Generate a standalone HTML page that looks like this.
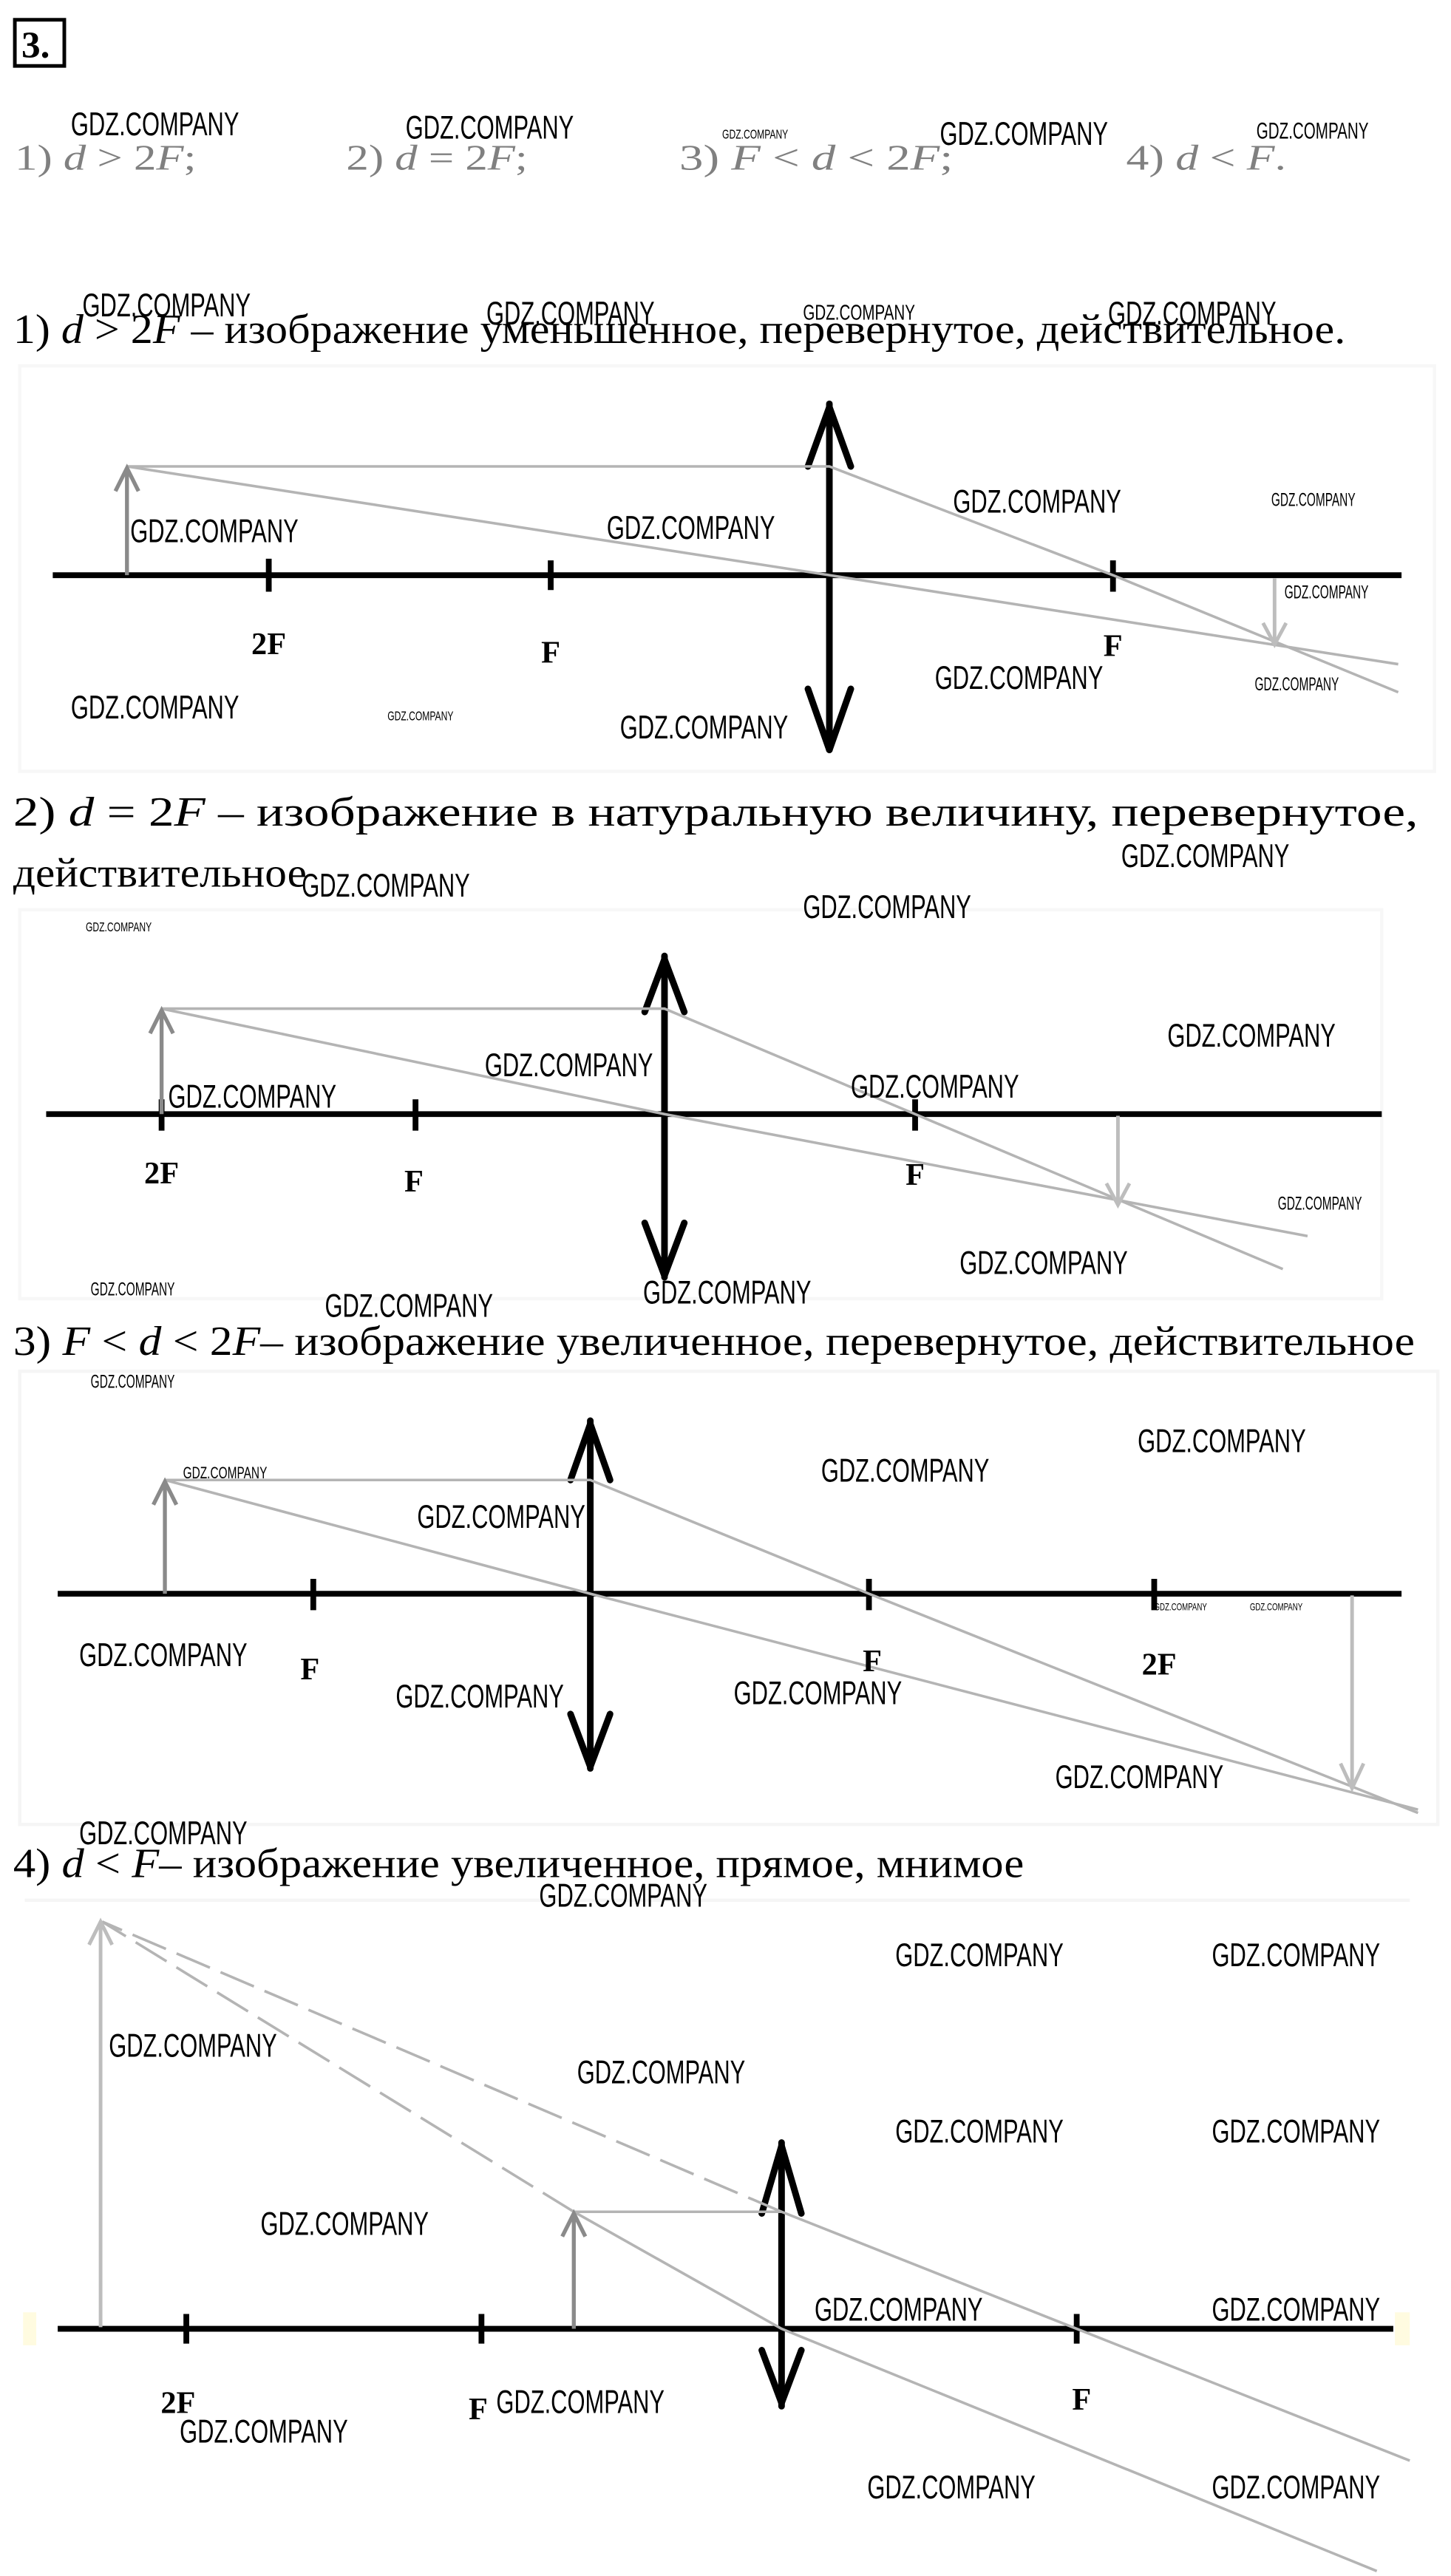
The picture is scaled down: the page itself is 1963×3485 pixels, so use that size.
<!DOCTYPE html>
<html><head><meta charset="utf-8"><style>
html,body{margin:0;padding:0;background:#fff;}
svg{display:block;}
.t{font-family:"Liberation Serif",serif;fill:#000;}
.g{font-family:"Liberation Serif",serif;fill:#808080;}
.w{font-family:"Liberation Sans Narrow","Liberation Sans",sans-serif;fill:#000;}
.ax{stroke:#000;stroke-width:3.5;fill:none;stroke-linecap:butt}
.ln{stroke:#000;stroke-width:4;fill:none;stroke-linecap:round;stroke-linejoin:round}
.r{stroke:#b4b4b4;stroke-width:1.6;fill:none}
.ob{stroke:#8a8a8a;stroke-width:2.4;fill:none}
.im{stroke:#bdbdbd;stroke-width:2.2;fill:none}
.lb{font-family:"Liberation Serif",serif;font-weight:bold;font-size:19px;fill:#000;text-anchor:middle}
</style></head><body>
<svg width="1963" height="3485" viewBox="0 0 880 1563" preserveAspectRatio="none" xmlns="http://www.w3.org/2000/svg">
<rect width="880" height="1563" fill="#fff"/>
<rect x="9" y="12" width="30" height="28" fill="none" stroke="#000" stroke-width="2.2"/>
<text x="13" y="35" class="t" font-weight="bold" font-size="23">3.</text>
<text x="9" y="103" class="g" font-size="22" textLength="110" lengthAdjust="spacingAndGlyphs">1) <tspan font-style="italic">d</tspan> &gt; 2<tspan font-style="italic">F</tspan>;</text>
<text x="210" y="103" class="g" font-size="22" textLength="110" lengthAdjust="spacingAndGlyphs">2) <tspan font-style="italic">d</tspan> = 2<tspan font-style="italic">F</tspan>;</text>
<text x="412" y="103" class="g" font-size="22" textLength="166" lengthAdjust="spacingAndGlyphs">3) <tspan font-style="italic">F</tspan> &lt; <tspan font-style="italic">d</tspan> &lt; 2<tspan font-style="italic">F</tspan>;</text>
<text x="683" y="103" class="g" font-size="22" textLength="97" lengthAdjust="spacingAndGlyphs">4) <tspan font-style="italic">d</tspan> &lt; <tspan font-style="italic">F</tspan>.</text>

<text x="8" y="208" class="t" font-size="25" textLength="808" lengthAdjust="spacingAndGlyphs">1) <tspan font-style="italic">d</tspan> &gt; 2<tspan font-style="italic">F</tspan> – изображение уменьшенное, перевернутое, действительное.</text>
<text x="8" y="501" class="t" font-size="25" textLength="852" lengthAdjust="spacingAndGlyphs">2) <tspan font-style="italic">d</tspan> = 2<tspan font-style="italic">F</tspan> – изображение в натуральную величину, перевернутое,</text>
<text x="8" y="538" class="t" font-size="25" textLength="178" lengthAdjust="spacingAndGlyphs">действительное</text>
<text x="8" y="822" class="t" font-size="25" textLength="850" lengthAdjust="spacingAndGlyphs">3) <tspan font-style="italic">F</tspan> &lt; <tspan font-style="italic">d</tspan> &lt; 2<tspan font-style="italic">F</tspan>– изображение увеличенное, перевернутое, действительное</text>
<text x="8" y="1139" class="t" font-size="25" textLength="613" lengthAdjust="spacingAndGlyphs">4) <tspan font-style="italic">d</tspan> &lt; <tspan font-style="italic">F</tspan>– изображение увеличенное, прямое, мнимое</text>

<rect x="12" y="222" width="858" height="246" fill="none" stroke="#f7f7f7" stroke-width="2"/>
<rect x="12" y="552" width="826" height="236" fill="none" stroke="#f7f7f7" stroke-width="2"/>
<rect x="12" y="832" width="860" height="275" fill="none" stroke="#f5f5f5" stroke-width="2"/>
<line x1="15" y1="1153" x2="855" y2="1153" stroke="#f5f5f5" stroke-width="2"/>

<!-- Diagram 1 -->
<line class="ax" x1="32" y1="349" x2="850" y2="349"/>
<line class="ax" x1="163" y1="339" x2="163" y2="359"/>
<line class="ax" x1="334" y1="340" x2="334" y2="358"/>
<line class="ax" x1="675" y1="340" x2="675" y2="359"/>
<line class="ln" x1="503" y1="245" x2="503" y2="455"/>
<polyline class="ln" points="490,283 503,247 516,283"/>
<polyline class="ln" points="490,418 503,455 516,418"/>
<polyline class="r" points="77,283 503,283 675,349 848,420"/>
<polyline class="r" points="77,283 503,349 848,403"/>
<line class="ob" x1="77" y1="349" x2="77" y2="285"/>
<polyline class="ob" points="70,298 77,284 84,298"/>
<line class="im" x1="773" y1="351" x2="773" y2="391"/>
<polyline class="im" points="766,378 773,391 780,378"/>
<text x="163" y="397" class="lb">2F</text>
<text x="334" y="402" class="lb">F</text>
<text x="675" y="398" class="lb">F</text>

<!-- Diagram 2 -->
<line class="ax" x1="28" y1="676" x2="838" y2="676"/>
<line class="ax" x1="98" y1="667" x2="98" y2="686"/>
<line class="ax" x1="252" y1="667" x2="252" y2="686"/>
<line class="ax" x1="555" y1="667" x2="555" y2="686"/>
<line class="ln" x1="403" y1="580" x2="403" y2="775"/>
<polyline class="ln" points="391,614 403,582 415,614"/>
<polyline class="ln" points="391,742 403,774 415,742"/>
<polyline class="r" points="98,612 403,612 555,676 778,770"/>
<polyline class="r" points="98,612 403,676 793,750"/>
<line class="ob" x1="98" y1="676" x2="98" y2="614"/>
<polyline class="ob" points="91,627 98,613 105,627"/>
<line class="im" x1="678" y1="677" x2="678" y2="731"/>
<polyline class="im" points="671,718 678,731 685,718"/>
<text x="98" y="718" class="lb">2F</text>
<text x="251" y="723" class="lb">F</text>
<text x="555" y="719" class="lb">F</text>

<!-- Diagram 3 -->
<line class="ax" x1="35" y1="967" x2="850" y2="967"/>
<line class="ax" x1="190" y1="958" x2="190" y2="977"/>
<line class="ax" x1="527" y1="958" x2="527" y2="977"/>
<line class="ax" x1="700" y1="958" x2="700" y2="977"/>
<line class="ln" x1="358" y1="862" x2="358" y2="1073"/>
<polyline class="ln" points="346,898 358,864 370,898"/>
<polyline class="ln" points="346,1040 358,1072 370,1040"/>
<polyline class="r" points="100,898 358,898 527,967 860,1100"/>
<polyline class="r" points="100,898 358,967 860,1098"/>
<line class="ob" x1="100" y1="967" x2="100" y2="900"/>
<polyline class="ob" points="93,913 100,899 107,913"/>
<line class="im" x1="820" y1="968" x2="820" y2="1085"/>
<polyline class="im" points="813,1070 820,1085 827,1070"/>
<text x="188" y="1019" class="lb">F</text>
<text x="529" y="1014" class="lb">F</text>
<text x="703" y="1016" class="lb">2F</text>

<!-- Diagram 4 -->
<line class="ax" x1="35" y1="1413" x2="845" y2="1413"/>
<line class="ax" x1="113" y1="1404" x2="113" y2="1422"/>
<line class="ax" x1="292" y1="1404" x2="292" y2="1422"/>
<line class="ax" x1="653" y1="1404" x2="653" y2="1422"/>
<line class="ln" x1="474" y1="1300" x2="474" y2="1460"/>
<polyline class="ln" points="462,1343 474,1302 486,1343"/>
<polyline class="ln" points="462,1426 474,1458 486,1426"/>
<polyline class="r" points="348,1342 474,1342 653,1413 855,1493"/>
<polyline class="r" points="348,1342 474,1413 835,1560"/>
<line class="r" x1="474" y1="1342" x2="62" y2="1166" stroke-dasharray="22,7"/>
<line class="r" x1="348" y1="1342" x2="62" y2="1166" stroke-dasharray="22,7"/>
<line class="ob" x1="348" y1="1413" x2="348" y2="1344"/>
<polyline class="ob" points="341,1357 348,1343 355,1357"/>
<line class="im" x1="61" y1="1412" x2="61" y2="1167"/>
<polyline class="im" points="54,1180 61,1166 68,1180"/>
<rect x="14" y="1403" width="8" height="20" fill="#fffbe0"/>
<rect x="846" y="1403" width="9" height="20" fill="#fffbe0"/>
<text x="108" y="1464" class="lb">2F</text>
<text x="290" y="1468" class="lb">F</text>
<text x="656" y="1462" class="lb">F</text>

<g class="w" font-size="20">
<text x="43" y="82" textLength="102" lengthAdjust="spacingAndGlyphs">GDZ.COMPANY</text>
<text x="246" y="84" textLength="102" lengthAdjust="spacingAndGlyphs">GDZ.COMPANY</text>
<text x="570" y="88" textLength="102" lengthAdjust="spacingAndGlyphs">GDZ.COMPANY</text>
<text x="762" y="84" font-size="14" textLength="68" lengthAdjust="spacingAndGlyphs">GDZ.COMPANY</text>
<text x="438" y="84" font-size="8" textLength="40" lengthAdjust="spacingAndGlyphs">GDZ.COMPANY</text>
<text x="50" y="192" textLength="102" lengthAdjust="spacingAndGlyphs">GDZ.COMPANY</text>
<text x="295" y="197" textLength="102" lengthAdjust="spacingAndGlyphs">GDZ.COMPANY</text>
<text x="487" y="194" font-size="13" textLength="68" lengthAdjust="spacingAndGlyphs">GDZ.COMPANY</text>
<text x="672" y="197" textLength="102" lengthAdjust="spacingAndGlyphs">GDZ.COMPANY</text>
<text x="578" y="311" textLength="102" lengthAdjust="spacingAndGlyphs">GDZ.COMPANY</text>
<text x="771" y="307" font-size="11" textLength="51" lengthAdjust="spacingAndGlyphs">GDZ.COMPANY</text>
<text x="79" y="329" textLength="102" lengthAdjust="spacingAndGlyphs">GDZ.COMPANY</text>
<text x="368" y="327" textLength="102" lengthAdjust="spacingAndGlyphs">GDZ.COMPANY</text>
<text x="779" y="363" font-size="11" textLength="51" lengthAdjust="spacingAndGlyphs">GDZ.COMPANY</text>
<text x="567" y="418" textLength="102" lengthAdjust="spacingAndGlyphs">GDZ.COMPANY</text>
<text x="761" y="419" font-size="11" textLength="51" lengthAdjust="spacingAndGlyphs">GDZ.COMPANY</text>
<text x="43" y="436" textLength="102" lengthAdjust="spacingAndGlyphs">GDZ.COMPANY</text>
<text x="235" y="437" font-size="8" textLength="40" lengthAdjust="spacingAndGlyphs">GDZ.COMPANY</text>
<text x="376" y="448" textLength="102" lengthAdjust="spacingAndGlyphs">GDZ.COMPANY</text>
<text x="680" y="526" textLength="102" lengthAdjust="spacingAndGlyphs">GDZ.COMPANY</text>
<text x="183" y="544" textLength="102" lengthAdjust="spacingAndGlyphs">GDZ.COMPANY</text>
<text x="487" y="557" textLength="102" lengthAdjust="spacingAndGlyphs">GDZ.COMPANY</text>
<text x="52" y="565" font-size="8" textLength="40" lengthAdjust="spacingAndGlyphs">GDZ.COMPANY</text>
<text x="708" y="635" textLength="102" lengthAdjust="spacingAndGlyphs">GDZ.COMPANY</text>
<text x="294" y="653" textLength="102" lengthAdjust="spacingAndGlyphs">GDZ.COMPANY</text>
<text x="516" y="666" textLength="102" lengthAdjust="spacingAndGlyphs">GDZ.COMPANY</text>
<text x="102" y="672" textLength="102" lengthAdjust="spacingAndGlyphs">GDZ.COMPANY</text>
<text x="775" y="734" font-size="11" textLength="51" lengthAdjust="spacingAndGlyphs">GDZ.COMPANY</text>
<text x="582" y="773" textLength="102" lengthAdjust="spacingAndGlyphs">GDZ.COMPANY</text>
<text x="55" y="786" font-size="11" textLength="51" lengthAdjust="spacingAndGlyphs">GDZ.COMPANY</text>
<text x="197" y="799" textLength="102" lengthAdjust="spacingAndGlyphs">GDZ.COMPANY</text>
<text x="390" y="791" textLength="102" lengthAdjust="spacingAndGlyphs">GDZ.COMPANY</text>
<text x="55" y="842" font-size="11" textLength="51" lengthAdjust="spacingAndGlyphs">GDZ.COMPANY</text>
<text x="690" y="881" textLength="102" lengthAdjust="spacingAndGlyphs">GDZ.COMPANY</text>
<text x="498" y="899" textLength="102" lengthAdjust="spacingAndGlyphs">GDZ.COMPANY</text>
<text x="111" y="897" font-size="10" textLength="51" lengthAdjust="spacingAndGlyphs">GDZ.COMPANY</text>
<text x="253" y="927" textLength="102" lengthAdjust="spacingAndGlyphs">GDZ.COMPANY</text>
<text x="48" y="1011" textLength="102" lengthAdjust="spacingAndGlyphs">GDZ.COMPANY</text>
<text x="700" y="977" font-size="6" textLength="32" lengthAdjust="spacingAndGlyphs">GDZ.COMPANY</text>
<text x="758" y="977" font-size="6" textLength="32" lengthAdjust="spacingAndGlyphs">GDZ.COMPANY</text>
<text x="240" y="1036" textLength="102" lengthAdjust="spacingAndGlyphs">GDZ.COMPANY</text>
<text x="445" y="1034" textLength="102" lengthAdjust="spacingAndGlyphs">GDZ.COMPANY</text>
<text x="640" y="1085" textLength="102" lengthAdjust="spacingAndGlyphs">GDZ.COMPANY</text>
<text x="48" y="1119" textLength="102" lengthAdjust="spacingAndGlyphs">GDZ.COMPANY</text>
<text x="327" y="1157" textLength="102" lengthAdjust="spacingAndGlyphs">GDZ.COMPANY</text>
<text x="543" y="1193" textLength="102" lengthAdjust="spacingAndGlyphs">GDZ.COMPANY</text>
<text x="735" y="1193" textLength="102" lengthAdjust="spacingAndGlyphs">GDZ.COMPANY</text>
<text x="66" y="1248" textLength="102" lengthAdjust="spacingAndGlyphs">GDZ.COMPANY</text>
<text x="350" y="1264" textLength="102" lengthAdjust="spacingAndGlyphs">GDZ.COMPANY</text>
<text x="543" y="1300" textLength="102" lengthAdjust="spacingAndGlyphs">GDZ.COMPANY</text>
<text x="735" y="1300" textLength="102" lengthAdjust="spacingAndGlyphs">GDZ.COMPANY</text>
<text x="158" y="1356" textLength="102" lengthAdjust="spacingAndGlyphs">GDZ.COMPANY</text>
<text x="494" y="1408" textLength="102" lengthAdjust="spacingAndGlyphs">GDZ.COMPANY</text>
<text x="735" y="1408" textLength="102" lengthAdjust="spacingAndGlyphs">GDZ.COMPANY</text>
<text x="301" y="1464" textLength="102" lengthAdjust="spacingAndGlyphs">GDZ.COMPANY</text>
<text x="109" y="1482" textLength="102" lengthAdjust="spacingAndGlyphs">GDZ.COMPANY</text>
<text x="526" y="1516" textLength="102" lengthAdjust="spacingAndGlyphs">GDZ.COMPANY</text>
<text x="735" y="1516" textLength="102" lengthAdjust="spacingAndGlyphs">GDZ.COMPANY</text>
</g>
</svg>
</body></html>
